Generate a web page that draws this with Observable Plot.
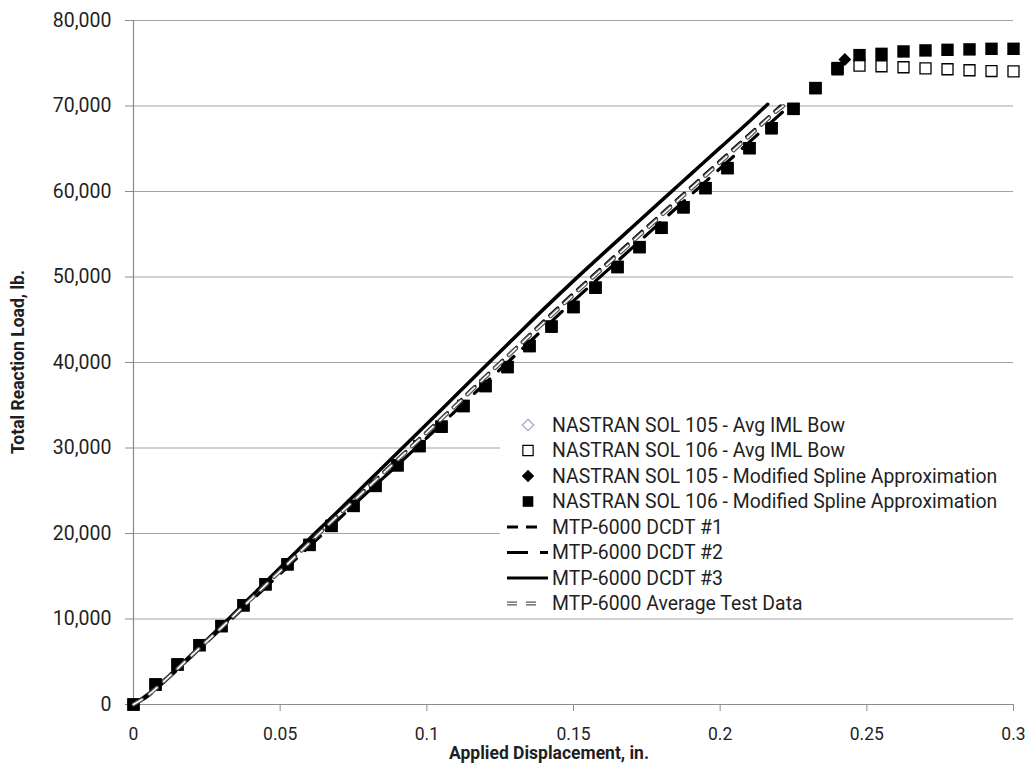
<!DOCTYPE html>
<html>
<head>
<meta charset="utf-8">
<script src="https://cdn.jsdelivr.net/npm/d3@7"></script>
<script src="https://cdn.jsdelivr.net/npm/@observablehq/plot@0.6"></script>
<style>
  body { margin: 0; background: #fff; }
  #chart svg { display: block; }
</style>
</head>
<body>
<div id="chart"></div>
<script>
// ---------- data ----------
const xTicks = [0, 0.05, 0.1, 0.15, 0.2, 0.25, 0.3];
const xTickLabels = ["0", "0.05", "0.1", "0.15", "0.2", "0.25", "0.3"];
const yTicks = [0, 10000, 20000, 30000, 40000, 50000, 60000, 70000, 80000];
const yTickLabels = ["0", "10,000", "20,000", "30,000", "40,000", "50,000", "60,000", "70,000", "80,000"];

const xTitle = "Applied Displacement, in.";
const yTitle = "Total Reaction Load, lb.";

const seriesNames = [
  "NASTRAN SOL 105 - Avg IML Bow",
  "NASTRAN SOL 106 - Avg IML Bow",
  "NASTRAN SOL 105 - Modified Spline Approximation",
  "NASTRAN SOL 106 - Modified Spline Approximation",
  "MTP-6000 DCDT #1",
  "MTP-6000 DCDT #2",
  "MTP-6000 DCDT #3",
  "MTP-6000 Average Test Data"
];

// NASTRAN SOL 105 - Avg IML Bow (single buckling point, hidden under markers)
const sol105Iml = [[0.24, 74400]];

// NASTRAN SOL 106 - Avg IML Bow (open squares)
const sol106Iml = [
  [0, 0], [0.0075, 2340], [0.015, 4680], [0.0225, 6940], [0.03, 9170], [0.0375, 11600],
  [0.045, 14060], [0.0525, 16400], [0.06, 18660], [0.0675, 20880], [0.075, 23220],
  [0.0825, 25560], [0.09, 27980], [0.0975, 30230], [0.105, 32490], [0.1125, 34910],
  [0.12, 37250], [0.1275, 39470], [0.135, 41930], [0.1425, 44200], [0.15, 46490],
  [0.1575, 48750], [0.165, 51170], [0.1725, 53500], [0.18, 55750], [0.1875, 58160],
  [0.195, 60400], [0.2025, 62740], [0.21, 65070], [0.2175, 67400], [0.225, 69660],
  [0.2325, 72100], [0.24, 74300], [0.2475, 74730], [0.255, 74650], [0.2625, 74530],
  [0.27, 74410], [0.2775, 74300], [0.285, 74180], [0.2925, 74090], [0.3, 74050]
];

// NASTRAN SOL 105 - Modified Spline Approximation (single buckling point)
const sol105Spline = [[0.2425, 75440]];

// NASTRAN SOL 106 - Modified Spline Approximation (filled squares)
const sol106Spline = [
  [0, 0], [0.0075, 2340], [0.015, 4680], [0.0225, 6940], [0.03, 9170], [0.0375, 11600],
  [0.045, 14060], [0.0525, 16400], [0.06, 18660], [0.0675, 20880], [0.075, 23220],
  [0.0825, 25560], [0.09, 27980], [0.0975, 30230], [0.105, 32490], [0.1125, 34910],
  [0.12, 37250], [0.1275, 39470], [0.135, 41930], [0.1425, 44200], [0.15, 46490],
  [0.1575, 48750], [0.165, 51170], [0.1725, 53500], [0.18, 55750], [0.1875, 58160],
  [0.195, 60400], [0.2025, 62740], [0.21, 65070], [0.2175, 67400], [0.225, 69660],
  [0.2325, 72100], [0.24, 74440], [0.2475, 75950], [0.255, 76100], [0.2625, 76380],
  [0.27, 76500], [0.2775, 76570], [0.285, 76620], [0.2925, 76690], [0.3, 76690]
];

// MTP-6000 test curves
const dcdt1 = [
  [0, 0], [0.005, 1100], [0.01, 2600], [0.02, 5800], [0.03, 9000], [0.04, 12300],
  [0.05, 15600], [0.06, 18900], [0.07, 22200], [0.08, 25500], [0.09, 28700],
  [0.10, 31900], [0.11, 35100], [0.12, 38400], [0.13, 41600], [0.14, 44900],
  [0.15, 48100], [0.16, 51200], [0.17, 54300], [0.18, 57400], [0.19, 60500],
  [0.20, 63600], [0.21, 66700], [0.2206, 70000]
];
const dcdt2 = [
  [0, 0], [0.005, 1000], [0.01, 2500], [0.02, 5700], [0.03, 8900], [0.04, 12100],
  [0.05, 15300], [0.06, 18500], [0.07, 21700], [0.08, 24900], [0.09, 28000],
  [0.10, 31200], [0.11, 34400], [0.12, 37600], [0.13, 40800], [0.14, 44000],
  [0.15, 47200], [0.16, 50300], [0.17, 53400], [0.18, 56500], [0.19, 59600],
  [0.20, 62700], [0.21, 65800], [0.22, 68900], [0.2226, 69700]
];
const dcdt3 = [
  [0, 0], [0.005, 1200], [0.01, 2700], [0.02, 5900], [0.03, 9200], [0.04, 12600],
  [0.05, 16000], [0.06, 19400], [0.07, 22700], [0.08, 26070], [0.09, 29440],
  [0.10, 32800], [0.11, 36200], [0.12, 39600], [0.13, 42950], [0.14, 46300],
  [0.15, 49550], [0.16, 52700], [0.17, 55820], [0.18, 58930], [0.19, 62030],
  [0.20, 65130], [0.21, 68220], [0.2162, 70200]
];
const avgTest = [
  [0, 0], [0.005, 1100], [0.01, 2600], [0.02, 5800], [0.03, 9000], [0.04, 12300],
  [0.05, 15600], [0.06, 18900], [0.07, 22200], [0.08, 25400], [0.09, 28600],
  [0.10, 31800], [0.11, 35000], [0.12, 38300], [0.13, 41500], [0.14, 44700],
  [0.15, 47900], [0.16, 51000], [0.17, 54100], [0.18, 57200], [0.19, 60300],
  [0.20, 63400], [0.21, 66500], [0.22, 69600], [0.2215, 70000]
];

// ---------- styles ----------
const FONT = "Roboto, 'Open Sans', sans-serif";
const GRID = "#a3a3a3";
const AXIS = "#8c8c8c";
const TEXT = "#1f1f1f";
const DASH1 = "11,8";
const DASH2 = "21,12";
const DASHAVG = "10,9";

const px = d => d[0], py = d => d[1];

const chart = Plot.plot({
  width: 1029,
  height: 768,
  marginLeft: 133,
  marginRight: 16,
  marginTop: 20,
  marginBottom: 64,
  style: { fontFamily: FONT, background: "#fff" },
  x: { domain: [0, 0.3] },
  y: { domain: [0, 80000] },
  marks: [
    Plot.ruleY(yTicks.filter(d => d > 0), { stroke: GRID, strokeWidth: 1.2 }),
    Plot.ruleY([0], { stroke: AXIS, strokeWidth: 1.2 }),
    Plot.ruleX([0], { stroke: AXIS, strokeWidth: 1.2 }),
    Plot.axisY({
      ticks: yTicks,
      tickFormat: d => yTickLabels[yTicks.indexOf(d)],
      tickSize: 8, tickPadding: 14, stroke: AXIS, color: TEXT,
      fontSize: 19.5, label: null
    }),
    Plot.axisX({
      ticks: xTicks,
      tickFormat: d => xTickLabels[xTicks.indexOf(d)],
      tickSize: 7, tickPadding: 16, stroke: AXIS, color: TEXT,
      fontSize: 17.5, label: null
    }),
    Plot.dot(sol105Iml, { x: px, y: py, symbol: "diamond2", r: 5.4, fill: "#fff", stroke: "#a4a4c8", strokeWidth: 1.2 }),
    Plot.dot(sol106Iml, { x: px, y: py, symbol: "square", r: 6.2, fill: "#fff", stroke: "#000", strokeWidth: 1.3 }),
    Plot.dot(sol105Spline, { x: px, y: py, symbol: "diamond2", r: 5.8, fill: "#000", stroke: "none" }),
    Plot.dot(sol106Spline, { x: px, y: py, symbol: "square", r: 7, fill: "#000", stroke: "none" }),
    Plot.line(dcdt3, { x: px, y: py, stroke: "#000", strokeWidth: 3.5, curve: "monotone-x" }),
    Plot.line(dcdt2, { x: px, y: py, stroke: "#000", strokeWidth: 3.2, strokeDasharray: DASH2, curve: "monotone-x" }),
    Plot.line(dcdt1, { x: px, y: py, stroke: "#000", strokeWidth: 3.2, strokeDasharray: DASH1, curve: "monotone-x" }),
    Plot.line(avgTest, { x: px, y: py, stroke: "#555", strokeWidth: 4, strokeDasharray: DASHAVG, curve: "monotone-x" }),
    Plot.line(avgTest, { x: px, y: py, stroke: "#fff", strokeWidth: 1.6, strokeDasharray: DASHAVG, curve: "monotone-x" })
  ]
});

document.getElementById("chart").appendChild(chart);

// ---------- axis titles & legend (SVG text) ----------
const svg = d3.select(chart);

svg.append("text")
  .attr("x", 549).attr("y", 759)
  .attr("text-anchor", "middle")
  .style("font-family", FONT).style("font-size", "17.5px").style("font-weight", "bold")
  .style("fill", TEXT)
  .text(xTitle);

svg.append("text")
  .attr("transform", "translate(24,362) rotate(-90)")
  .attr("text-anchor", "middle")
  .style("font-family", FONT).style("font-size", "17.5px").style("font-weight", "bold")
  .style("fill", TEXT)
  .text(yTitle);

const lg = svg.append("g").attr("text-anchor", "start");
lg.append("rect")
  .attr("x", 500).attr("y", 410).attr("width", 513).attr("height", 205)
  .style("fill", "#ffffff").style("stroke", "none");

const rowY = i => 425 + i * 25.5;
const mx = 528;
const sym = (type, r) => d3.symbol().type(type).size(Math.PI * r * r)();

// row 0: open diamond
lg.append("path").attr("d", sym(d3.symbolDiamond2, 5.2)).attr("transform", `translate(${mx},${rowY(0)})`)
  .style("fill", "#fff").style("stroke", "#a4a4c8").style("stroke-width", 1.2);
// row 1: open square
lg.append("path").attr("d", sym(d3.symbolSquare, 5.8)).attr("transform", `translate(${mx},${rowY(1)})`)
  .style("fill", "#fff").style("stroke", "#000").style("stroke-width", 1.2);
// row 2: filled diamond
lg.append("path").attr("d", sym(d3.symbolDiamond2, 5.6)).attr("transform", `translate(${mx},${rowY(2)})`)
  .style("fill", "#000");
// row 3: filled square
lg.append("path").attr("d", sym(d3.symbolSquare, 6)).attr("transform", `translate(${mx},${rowY(3)})`)
  .style("fill", "#000");

const legLine = (i, x2, stroke, w, dash) => {
  const l = lg.append("line").attr("x1", 507).attr("x2", x2).attr("y1", rowY(i)).attr("y2", rowY(i))
    .style("stroke", stroke).style("stroke-width", w);
  if (dash) l.style("stroke-dasharray", dash);
};
legLine(4, 545, "#000", 3, DASH1);
legLine(5, 548, "#000", 3, DASH2);
legLine(6, 548, "#000", 3, null);
legLine(7, 537, "#555", 4, DASHAVG);
legLine(7, 537, "#fff", 1.6, DASHAVG);

seriesNames.forEach((name, i) => {
  lg.append("text")
    .attr("x", 552).attr("y", rowY(i)).attr("dy", "0.36em")
    .attr("text-anchor", "start")
    .style("font-family", FONT).style("font-size", "19.4px")
    .style("fill", TEXT)
    .text(name);
});
</script>
</body>
</html>
